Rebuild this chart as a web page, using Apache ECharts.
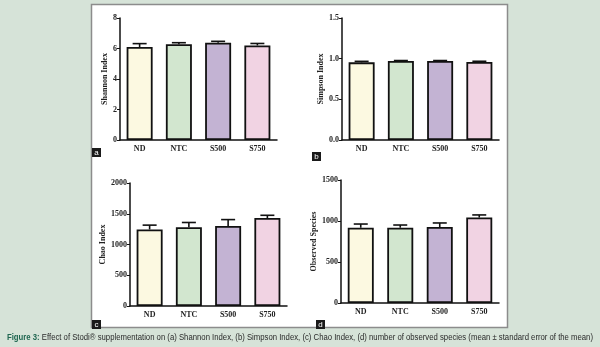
<!DOCTYPE html>
<html><head><meta charset="utf-8">
<script src="https://cdn.jsdelivr.net/npm/echarts@6/dist/echarts.min.js"></script>
<style>html,body{margin:0;padding:0;background:#d6e3d8}#c{width:600px;height:347px}</style>
</head><body><div id="c"></div>
<script>
const categories = ['ND', 'NTC', 'S500', 'S750'];
const barColors = ['#fcf9e1', '#d2e6cf', '#c3b3d3', '#f1d3e3'];

const shannonMean = [6.10, 6.28, 6.38, 6.20];
const shannonErr  = [0.22, 0.10, 0.09, 0.13];
const simpsonMean = [0.955, 0.972, 0.972, 0.960];
const simpsonErr  = [0.012, 0.005, 0.005, 0.008];
const chaoMean = [1245, 1280, 1300, 1430];
const chaoErr  = [70, 78, 105, 45];
const obsMean = [918, 918, 926, 1042];
const obsErr  = [45, 33, 50, 32];

const panelNames = ['Shannon Index', 'Simpson Index', 'Chao Index', 'Observed Species'];
const panelLetters = ['a', 'b', 'c', 'd'];
const yMax = [8, 1.5, 2000, 1500];
const yInterval = [2, 0.5, 500, 500];
const yDecimals = [0, 1, 0, 0];
const means = [shannonMean, simpsonMean, chaoMean, obsMean];
const errs = [shannonErr, simpsonErr, chaoErr, obsErr];

const captionBold = 'Figure 3:';
const captionText = ' Effect of Stodi® supplementation on (a) Shannon Index, (b) Simpson Index, (c) Chao Index, (d) number of observed species (mean ± standard error of the mean)';

const grids = [
  {left: 120, top: 18, width: 157, height: 122},
  {left: 342, top: 18, width: 157, height: 122},
  {left: 130, top: 183, width: 157, height: 123},
  {left: 341, top: 180, width: 158, height: 123}
];
const letterPos = [[92, 148], [312, 152], [92, 320], [316, 320]];
const nameGaps = [10, 17, 21, 21];

const serif = 'Liberation Serif';
const chart = echarts.init(document.getElementById('c'), null, {renderer: 'canvas'});

const xAxis = [], yAxis = [], series = [];
for (let i = 0; i < 4; i++) {
  xAxis.push({
    type: 'category', gridIndex: i, data: categories,
    axisLine: {lineStyle: {color: '#111', width: 1.5}},
    axisTick: {alignWithLabel: true, length: 3, lineStyle: {color: '#111', width: 1}},
    axisLabel: {color: '#222', fontFamily: serif, fontWeight: 'bold', fontSize: 8, margin: 5}
  });
  yAxis.push({
    type: 'value', gridIndex: i, min: 0, max: yMax[i], interval: yInterval[i],
    name: panelNames[i], nameLocation: 'middle', nameGap: nameGaps[i],
    nameTextStyle: {color: '#222', fontFamily: serif, fontWeight: 'bold', fontSize: 8},
    splitLine: {show: false},
    axisLine: {show: true, lineStyle: {color: '#111', width: 1.5}},
    axisTick: {show: true, length: 3, lineStyle: {color: '#111', width: 1}},
    axisLabel: {color: '#222', fontFamily: serif, fontWeight: 'bold', fontSize: 8, margin: 3,
      formatter: (v => v.toFixed(yDecimals[i]))}
  });
  series.push({
    type: 'bar', xAxisIndex: i, yAxisIndex: i, barWidth: 26,
    data: means[i].map((v, k) => ({value: v, itemStyle: {color: barColors[k]}})),
    itemStyle: {borderColor: '#111', borderWidth: 1.8},
    z: 2
  });
  series.push({
    type: 'custom', xAxisIndex: i, yAxisIndex: i, z: 3,
    data: means[i].map((v, k) => [k, v, errs[i][k]]),
    renderItem: function (params, api) {
      const x = api.value(0), m = api.value(1), e = api.value(2);
      const p0 = api.coord([x, m]);
      const p1 = api.coord([x, m + e]);
      const hw = 7;
      const st = {stroke: '#111', lineWidth: 1.6};
      return {type: 'group', children: [
        {type: 'line', shape: {x1: p0[0], y1: p0[1], x2: p1[0], y2: p1[1]}, style: st},
        {type: 'line', shape: {x1: p1[0] - hw, y1: p1[1], x2: p1[0] + hw, y2: p1[1]}, style: st}
      ]};
    }
  });
}

// measure caption to fit the reference width
const capFont = '9px "Liberation Sans"';
const capBoldFont = 'bold 9px "Liberation Sans"';
const mctx = document.createElement('canvas').getContext('2d');
mctx.font = capBoldFont;
let capW = mctx.measureText(captionBold).width;
mctx.font = capFont;
capW += mctx.measureText(captionText).width;
const capScale = 586 / capW;

const graphic = [
  {type: 'rect', shape: {x: 91.5, y: 4.5, width: 416, height: 323}, style: {fill: '#ffffff', stroke: '#8c8c8c', lineWidth: 1.5}, z: -10}
];
letterPos.forEach((p, i) => {
  graphic.push({type: 'rect', shape: {x: p[0], y: p[1], width: 9, height: 9}, style: {fill: '#1a1a1a'}, z: 5});
  graphic.push({type: 'text', x: p[0] + 4.5, y: p[1] + 4.8, style: {text: panelLetters[i], fill: '#fff', font: '8px "Liberation Sans"', align: 'center', verticalAlign: 'middle'}, z: 6});
});
graphic.push({
  type: 'text', x: 300, y: 338, z: 6, scaleX: capScale,
  style: {
    text: '{b|' + captionBold + '}' + captionText,
    align: 'center', verticalAlign: 'middle',
    font: capFont, fill: '#2a2a2a',
    rich: {b: {font: capBoldFont, fill: '#1f6650'}}
  }
});

chart.setOption({
  animation: false,
  backgroundColor: '#d6e3d8',
  grid: grids,
  xAxis: xAxis, yAxis: yAxis, series: series,
  graphic: graphic
});
</script></body></html>
